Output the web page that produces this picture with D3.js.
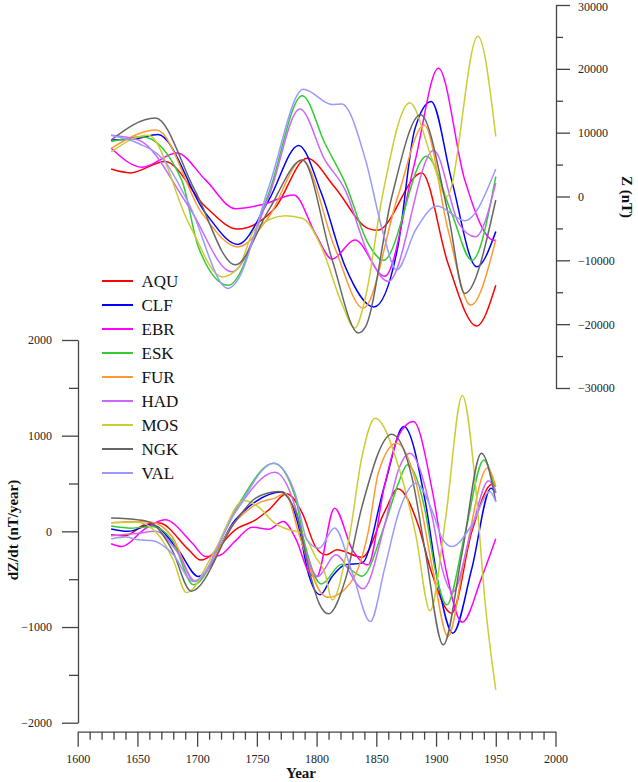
<!DOCTYPE html>
<html><head><meta charset="utf-8">
<script src="https://cdn.jsdelivr.net/npm/d3@7"></script>
<style>html,body{margin:0;padding:0;background:#fff}svg{display:block}</style>
</head><body><svg id="c" width="638" height="782"></svg>
<script>
const stations = ["AQU","CLF","EBR","ESK","FUR","HAD","MOS","NGK","VAL"];
const colors = ["#ff0000","#0000ff","#ff00ff","#33cc33","#ff9933","#cc66ff","#cccc33","#666666","#9999ff"];
const xTicks = [1600,1650,1700,1750,1800,1850,1900,1950,2000];
const zTicks = [-30000,-20000,-10000,0,10000,20000,30000];
const dzTicks = [-2000,-1000,0,1000,2000];

// Z (nT), [year, value]
const Z_AQU = [[1628,4300],[1644,3700],[1673,5500],[1707,-1600],[1734,-5100],[1765,-1850],[1792,6000],[1815,1500],[1843,-5000],[1851,-5300],[1888,3700],[1910,-10500],[1934,-20300],[1950,-13900]];
const Z_CLF = [[1628,8850],[1650,9100],[1667,9700],[1707,-2600],[1734,-7500],[1760,-550],[1785,8000],[1804,500],[1824,-11000],[1848,-17300],[1868,-7900],[1882,10400],[1896,14900],[1913,2600],[1934,-11000],[1950,-5500]];
const Z_EBR = [[1628,7550],[1654,4600],[1683,6800],[1707,2600],[1732,-1900],[1754,-1300],[1781,250],[1799,-5800],[1813,-9800],[1832,-6800],[1857,-12500],[1882,5200],[1902,20100],[1924,2600],[1947,-6800],[1950,-6900]];
const Z_ESK = [[1628,8600],[1654,9350],[1687,2600],[1701,-7900],[1726,-13900],[1760,500],[1788,15800],[1807,8300],[1824,2100],[1843,-7300],[1856,-10000],[1892,6300],[1913,-2600],[1930,-10000],[1950,3100]];
const Z_FUR = [[1628,7550],[1666,10400],[1704,-2600],[1734,-7900],[1760,-3200],[1788,5700],[1815,-7900],[1839,-17500],[1868,0],[1890,11200],[1910,-5200],[1929,-17000],[1950,-6800]];
const Z_HAD = [[1628,9600],[1651,8850],[1693,-1600],[1729,-11800],[1760,0],[1786,13700],[1807,5700],[1824,1000],[1843,-8900],[1860,-13300],[1898,7200],[1919,-4200],[1933,-6300],[1950,2100]];
const Z_MOS = [[1628,7000],[1659,9600],[1693,-4200],[1721,-12600],[1735,-11000],[1748,-5200],[1774,-3000],[1788,-3400],[1804,-7900],[1821,-16700],[1832,-20600],[1841,-15700],[1855,0],[1878,14700],[1896,6200],[1909,0],[1935,25100],[1950,9400]];
const Z_NGK = [[1628,8850],[1665,12300],[1698,1000],[1732,-10700],[1760,-2100],[1788,5700],[1813,-9900],[1835,-21400],[1841,-20400],[1863,0],[1887,12800],[1910,-2600],[1924,-15200],[1950,-550]];
const Z_VAL = [[1628,9600],[1651,8300],[1673,5500],[1693,-1100],[1726,-14400],[1732,-13600],[1760,1500],[1789,16800],[1813,14400],[1821,14500],[1841,5700],[1855,-5200],[1867,-11500],[1883,-5200],[1901,-1500],[1924,-3800],[1950,4300]];

// dZ/dt (nT/year), [year, value]
const D_AQU = [[1628,-35],[1640,-45],[1656,68],[1668,86],[1693,-193],[1703,-300],[1734,33],[1749,120],[1760,225],[1775,392],[1788,190],[1799,-159],[1808,-245],[1817,-193],[1838,-270],[1857,207],[1868,444],[1885,68],[1896,-420],[1913,-855],[1930,0],[1947,493],[1950,470]];
const D_CLF = [[1628,25],[1642,0],[1662,68],[1684,-193],[1701,-472],[1732,120],[1749,311],[1771,410],[1785,50],[1793,-437],[1803,-663],[1813,-472],[1824,-350],[1838,-332],[1857,486],[1873,1095],[1891,311],[1902,-559],[1914,-1064],[1930,-385],[1946,451],[1950,402]];
const D_EBR = [[1628,-130],[1637,-159],[1656,23],[1673,120],[1696,-124],[1707,-263],[1718,-256],[1732,-100],[1746,44],[1760,23],[1772,103],[1783,-89],[1794,-437],[1800,-475],[1815,242],[1830,-193],[1843,-350],[1857,486],[1869,1008],[1881,1147],[1897,416],[1908,-385],[1922,-949],[1938,-489],[1950,-78]];
const D_ESK = [[1628,55],[1645,33],[1662,50],[1679,-89],[1697,-559],[1732,230],[1764,712],[1782,364],[1790,-124],[1804,-549],[1821,-345],[1838,-468],[1857,68],[1869,520],[1876,695],[1891,207],[1899,-385],[1909,-768],[1924,-37],[1940,747],[1950,399]];
const D_FUR = [[1628,90],[1651,103],[1662,95],[1679,-54],[1698,-515],[1732,103],[1754,311],[1765,347],[1774,399],[1785,-19],[1804,-646],[1810,-690],[1830,-507],[1843,-19],[1852,625],[1867,921],[1883,520],[1897,-385],[1910,-1099],[1924,-280],[1943,660],[1950,468]];
const D_HAD = [[1628,-45],[1651,-19],[1665,0],[1684,-228],[1698,-524],[1732,207],[1765,618],[1782,259],[1792,-263],[1801,-472],[1816,-245],[1839,-600],[1857,68],[1869,660],[1878,817],[1897,138],[1905,-385],[1914,-636],[1930,33],[1944,528],[1950,418]];
const D_MOS = [[1628,90],[1650,95],[1666,-15],[1680,-300],[1691,-640],[1715,-193],[1739,322],[1751,259],[1765,86],[1777,16],[1788,-19],[1799,-263],[1807,-437],[1813,-716],[1827,-89],[1838,782],[1849,1183],[1869,660],[1883,-37],[1895,-831],[1908,138],[1922,1419],[1933,486],[1941,-733],[1950,-1656]];
const D_NGK = [[1628,140],[1651,120],[1662,86],[1679,-193],[1695,-625],[1732,103],[1749,347],[1768,416],[1783,190],[1793,-368],[1802,-750],[1810,-862],[1824,-507],[1838,259],[1863,1016],[1880,556],[1891,-211],[1906,-1186],[1922,-211],[1938,817],[1950,311]];
const D_VAL = [[1628,-80],[1640,-60],[1651,-89],[1662,-96],[1679,-228],[1697,-524],[1732,200],[1764,712],[1782,399],[1792,-89],[1802,-176],[1815,35],[1830,-437],[1845,-943],[1857,-385],[1869,207],[1883,503],[1897,207],[1905,-71],[1913,-159],[1930,68],[1945,416],[1950,311]];

const zSeries = [Z_AQU,Z_CLF,Z_EBR,Z_ESK,Z_FUR,Z_HAD,Z_MOS,Z_NGK,Z_VAL];
const dSeries = [D_AQU,D_CLF,D_EBR,D_ESK,D_FUR,D_HAD,D_MOS,D_NGK,D_VAL];

const svg = d3.select("#c");
const FONT = "'Liberation Serif','Times New Roman',serif";
const AX = "#444";

const x = d3.scaleLinear().domain([1600,2000]).range([77.7,555.5]);
const yTop = d3.scaleLinear().domain([-30000,30000]).range([388,5]);
const yBot = d3.scaleLinear().domain([-2000,2000]).range([722.7,340]);

function styleAxis(g){
  g.selectAll("path,line").attr("stroke",AX).attr("stroke-width",1.3);
  g.selectAll("text").attr("font-family",FONT).attr("font-size",12).attr("fill","#222");
}

// top right axis
const gR = svg.append("g").attr("transform","translate(556,0)");
gR.call(d3.axisRight(yTop).tickValues(zTicks).tickSize(14).tickSizeOuter(0).tickPadding(8).tickFormat(d3.format("d")));
gR.call(styleAxis);
gR.selectAll("text").attr("text-anchor","start");
gR.selectAll(".tick").filter(d=>d===30000).select("text").attr("dy","0.45em");
const gRm = svg.append("g").attr("transform","translate(556,0)");
gRm.call(d3.axisRight(yTop).tickValues([-25000,-15000,-5000,5000,15000,25000]).tickSize(7).tickFormat(""));
gRm.select("path").remove();
gRm.call(styleAxis);

// bottom left axis
const gL = svg.append("g").attr("transform","translate(78,0)");
gL.call(d3.axisLeft(yBot).tickValues(dzTicks).tickSize(16).tickSizeOuter(0).tickPadding(10).tickFormat(d3.format("d")));
gL.call(styleAxis);
const gLm = svg.append("g").attr("transform","translate(78,0)");
gLm.call(d3.axisLeft(yBot).tickValues([-1500,-500,500,1500]).tickSize(9).tickFormat(""));
gLm.select("path").remove();
gLm.call(styleAxis);

// x axis
const gX = svg.append("g").attr("transform","translate(0,731.7)");
gX.call(d3.axisBottom(x).tickValues(xTicks).tickSize(15).tickSizeOuter(0).tickPadding(8).tickFormat(d3.format("d")));
gX.call(styleAxis);
const gXm = svg.append("g").attr("transform","translate(0,731.7)");
gXm.call(d3.axisBottom(x).tickValues(d3.range(1610,2000,10).filter(v=>v%50!==0)).tickSize(8).tickFormat(""));
gXm.select("path").remove();
gXm.call(styleAxis);

// lines
const lineTop = d3.line().x(d=>x(d[0])).y(d=>yTop(d[1])).curve(d3.curveMonotoneX);
const lineBot = d3.line().x(d=>x(d[0])).y(d=>yBot(d[1])).curve(d3.curveMonotoneX);
zSeries.forEach((s,i)=>{
  svg.append("path").attr("d",lineTop(s)).attr("fill","none").attr("stroke",colors[i]).attr("stroke-width",1.5);
});
dSeries.forEach((s,i)=>{
  svg.append("path").attr("d",lineBot(s)).attr("fill","none").attr("stroke",colors[i]).attr("stroke-width",1.5);
});

// legend
const leg = svg.append("g");
stations.forEach((st,i)=>{
  const cy = 281 + i*24;
  leg.append("line").attr("x1",102).attr("x2",133).attr("y1",cy).attr("y2",cy).attr("stroke",colors[i]).attr("stroke-width",2);
  leg.append("text").attr("x",141.5).attr("y",cy).attr("dy","0.36em").attr("font-family",FONT).attr("font-size",17).attr("fill","#111").text(st);
});

// axis titles
svg.append("text").attr("transform","translate(627,197) rotate(90)").attr("text-anchor","middle").attr("dy","0.35em")
  .attr("font-family",FONT).attr("font-weight","bold").attr("font-size",15).attr("fill","#111").text("Z (nT)");
svg.append("text").attr("transform","translate(13,530) rotate(-90)").attr("text-anchor","middle").attr("dy","0.35em")
  .attr("font-family",FONT).attr("font-weight","bold").attr("font-size",15).attr("fill","#111").text("dZ/dt (nT/year)");
svg.append("text").attr("x",301).attr("y",773).attr("text-anchor","middle").attr("dy","0.35em")
  .attr("font-family",FONT).attr("font-weight","bold").attr("font-size",15).attr("fill","#111").text("Year");
</script></body></html>
